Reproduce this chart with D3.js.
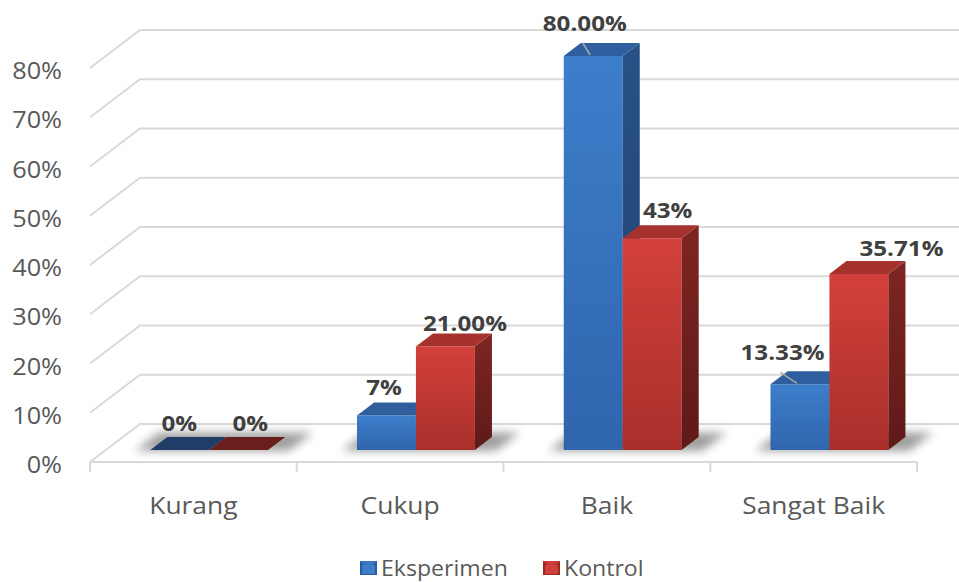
<!DOCTYPE html>
<html>
<head>
<meta charset="utf-8">
<script src="https://cdn.jsdelivr.net/npm/d3@7"></script>
<style>
  html, body { margin: 0; padding: 0; background: #fff; }
  svg { display: block; font-family: "Open Sans", "DejaVu Sans", sans-serif; }
</style>
</head>
<body>
<svg id="chart" width="959" height="582"></svg>
<script>
// ---- data ----
const categories = ["Kurang", "Cukup", "Baik", "Sangat Baik"];
const seriesNames = ["Eksperimen", "Kontrol"];
const eksperimen = [0, 7, 80, 13.33];
const kontrol = [0, 21, 43, 35.71];
const eksperimenLabels = ["0%", "7%", "80.00%", "13.33%"];
const kontrolLabels = ["0%", "21.00%", "43%", "35.71%"];
const yTicks = [0, 10, 20, 30, 40, 50, 60, 70, 80];

const seriesValues = [eksperimen, kontrol];
const seriesLabels = [eksperimenLabels, kontrolLabels];

// ---- layout ----
const W = 959, H = 582;
const floorLeft = 90, floorRight = 917;
const depthX = 50, depthY = 38;          // oblique offset of the full floor depth
const barZ0 = 0.316, barZ1 = 0.658;      // bar depth range inside the floor
const barZMid = (barZ0 + barZ1) / 2;

const svg = d3.select("#chart");

const y = d3.scaleLinear().domain([0, 80]).range([462, 68]);
const x0 = d3.scaleBand().domain(categories).range([floorLeft, floorRight]);
const groupW = x0.bandwidth() * 0.57;
const x1 = d3.scaleBand().domain(seriesNames).range([0, groupW]);

// project (category-plane x, value, depth 0..1) to screen
const P = (x, v, z) => [x + depthX * z, y(v) - depthY * z];
const poly = pts => "M" + pts.map(p => p.join(",")).join("L") + "Z";

// ---- defs: gradients and shadow blur ----
const defs = svg.append("defs");
function vGrad(id, top, bottom) {
  const g = defs.append("linearGradient").attr("id", id)
    .attr("x1", 0).attr("y1", 0).attr("x2", 0).attr("y2", 1);
  g.append("stop").attr("offset", "0%").attr("stop-color", top);
  g.append("stop").attr("offset", "100%").attr("stop-color", bottom);
}
vGrad("blueFront", "#3d7ecb", "#2f65ad");
vGrad("redFront", "#d3403b", "#a92f2b");
vGrad("blueSide", "#285186", "#21416d");
vGrad("redSide", "#7e2522", "#5f1a18");
defs.append("filter").attr("id", "soft").attr("x", "-30%").attr("y", "-80%")
  .attr("width", "160%").attr("height", "260%")
  .append("feGaussianBlur").attr("stdDeviation", 5);

const palette = [
  { front: "url(#blueFront)", top: "#2f5f9f", flatTop: "#1f3d66", side: "url(#blueSide)" },
  { front: "url(#redFront)", top: "#a6322e", flatTop: "#6b1f1c", side: "url(#redSide)" }
];

// ---- gridlines: back wall + left wall diagonals ----
const grid = svg.append("g").attr("stroke", "#d9d9d9").attr("stroke-width", 2).attr("fill", "none");
yTicks.forEach(t => {
  const a = P(floorLeft, t, 0), b = P(floorLeft, t, 1);
  grid.append("path").attr("d", `M${a}L${b}L${W + 10},${b[1]}`);
});
// floor front edge with category ticks
const floorY = y(0);
grid.append("line").attr("x1", floorLeft).attr("x2", floorRight)
  .attr("y1", floorY).attr("y2", floorY);
const boundaries = categories.map(c => x0(c)).concat([floorRight]);
boundaries.forEach(bx => {
  grid.append("line").attr("x1", bx).attr("x2", bx).attr("y1", floorY).attr("y2", floorY + 10);
});

// text placed at (x, y) with a slight horizontal stretch
const stretched = (sel, x, yy, k) => sel.attr("transform", `translate(${x},${yy}) scale(${k},1)`);

// ---- y axis labels ----
yTicks.forEach(t => {
  stretched(svg.append("text"), 62, y(t) + 11, 1.1)
    .attr("text-anchor", "end").attr("font-size", 23).attr("fill", "#595959")
    .text(t + "%");
});

// ---- bars ----
const barsG = svg.append("g");
categories.forEach((cat, i) => {
  const gx = x0(cat) + (x0.bandwidth() - groupW) / 2;
  // soft floor shadow under the cluster
  const sx0 = gx - 14, sx1 = gx + groupW + 22;
  barsG.append("path")
    .attr("d", poly([P(sx0, 0, barZ0 - 0.02), P(sx1, 0, barZ0 - 0.02), P(sx1, 0, barZ1 + 0.12), P(sx0, 0, barZ1 + 0.12)]))
    .attr("fill", "#000").attr("opacity", 0.38).attr("filter", "url(#soft)");

  seriesNames.forEach((s, si) => {
    const v = seriesValues[si][i];
    const bx0 = gx + x1(s), bx1 = bx0 + x1.bandwidth();
    const c = palette[si];
    const g = barsG.append("g");
    // front face
    g.append("path").attr("d", poly([P(bx0, 0, barZ0), P(bx1, 0, barZ0), P(bx1, v, barZ0), P(bx0, v, barZ0)]))
      .attr("fill", c.front);
    // right side
    g.append("path").attr("d", poly([P(bx1, 0, barZ0), P(bx1, 0, barZ1), P(bx1, v, barZ1), P(bx1, v, barZ0)]))
      .attr("fill", c.side);
    // top face
    g.append("path").attr("d", poly([P(bx0, v, barZ0), P(bx1, v, barZ0), P(bx1, v, barZ1), P(bx0, v, barZ1)]))
      .attr("fill", v === 0 ? c.flatTop : c.top);
  });
});

// ---- data labels ----
// nudges for label placement around the top of each bar [dx, dy, leader line]
const labelNudge = [
  [[-9, 2, false], [3, 2, false]],
  [[-11, 0, false], [11, 5, false]],
  [[-17, -4, true], [7, 1, false]],
  [[-26, -3, true], [34, 3, false]]
];
const labelsG = svg.append("g");
categories.forEach((cat, i) => {
  const gx = x0(cat) + (x0.bandwidth() - groupW) / 2;
  seriesNames.forEach((s, si) => {
    const v = seriesValues[si][i];
    const bx0 = gx + x1(s), bx1 = bx0 + x1.bandwidth();
    const cx = (bx0 + bx1) / 2;
    const [dx, dy, leader] = labelNudge[i][si];
    const lx = P(cx, v, barZMid)[0] + dx;
    const ly = P(cx, v, barZ1)[1] - 8 + dy;
    if (leader) {
      const front = P(cx, v, barZ0);
      labelsG.append("line")
        .attr("x1", lx - 2).attr("y1", ly + 12)
        .attr("x2", front[0] - 3).attr("y2", front[1] - 1)
        .attr("stroke", "#a6a6a6").attr("stroke-width", 1.5);
    }
    stretched(labelsG.append("text"), lx, ly, 1.1)
      .attr("text-anchor", "middle").attr("font-size", 22).attr("font-weight", 700)
      .attr("fill", "#404040")
      .text(seriesLabels[si][i]);
  });
});

// ---- category labels ----
categories.forEach(cat => {
  stretched(svg.append("text"), x0(cat) + x0.bandwidth() / 2, 514, 1.1)
    .attr("text-anchor", "middle").attr("font-size", 24).attr("fill", "#595959")
    .text(cat);
});

// ---- legend ----
const legend = svg.append("g");
const legendItems = [{ x: 360, color: ["#3d7ecb", "#2a5a98"] }, { x: 543, color: ["#d3403b", "#962a27"] }];
seriesNames.forEach((s, si) => {
  const it = legendItems[si];
  const gL = legend.append("g").attr("transform", `translate(${it.x},561)`);
  gL.append("rect").attr("width", 17).attr("height", 14).attr("fill", it.color[1]);
  gL.append("path").attr("d", "M0,0L17,0L8.5,7Z").attr("fill", it.color[0]).attr("opacity", 0.85);
  gL.append("rect").attr("x", 2).attr("y", 4).attr("width", 13).attr("height", 9).attr("fill", it.color[0]);
  stretched(gL.append("text"), 21, 14.5, 1.1)
    .attr("font-size", 21).attr("fill", "#595959").text(s);
});
</script>
</body>
</html>
